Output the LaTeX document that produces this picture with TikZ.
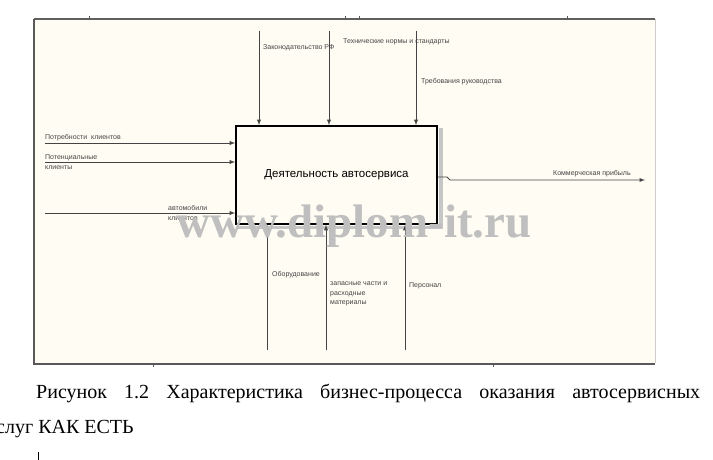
\documentclass[tikz,border=0pt]{standalone}
\usepackage{fontspec}
\setmainfont{Liberation Serif}
\newfontfamily\idef{Liberation Sans}
\usepackage{tikz}
\usetikzlibrary{arrows,shapes}
\usetikzlibrary{positioning,fit}
\definecolor{paper}{HTML}{FFFCF3}
\definecolor{ink}{HTML}{444444}
\tikzstyle{func} = [draw, line width=1.7pt, minimum width=201pt,
    minimum height=98pt, inner sep=0pt, font=\idef\fontsize{11.5}{14}\selectfont]
\tikzstyle{lbl} = [inner sep=0pt, align=left, text=ink,
    font=\idef\fontsize{7}{9.5}\selectfont]
\tikzstyle{flow} = [-latex, line width=0.9pt, ink]

\begin{document}
\begin{tikzpicture}[x=1pt,y=-1pt]
  \useasboundingbox (0,0) rectangle (713,460);
  \fill [paper] (34,19) rectangle (655,363);
  \draw [gray!75!black, line width=1.4pt] (34,19) -- (655,19);
  \draw [gray!40, line width=1pt] (655,19) -- (655,363);
  \draw [gray!70!black, line width=2pt] (34,19) -- (34,364) -- (655,364);
  \foreach \x in {89,345,359,567} \draw [gray!70!black] (\x,19) -- (\x,16);
  \foreach \x in {153,493} \draw [gray!70!black] (\x,364) -- (\x,367);

  \node [func] (act) at (336.5,175) {Деятельность автосервиса};
  \fill [gray!45] ([xshift=1pt,yshift=-3pt]act.north east) rectangle ([xshift=5pt,yshift=-4pt]act.south east);
  \fill [gray!45] ([xshift=3pt,yshift=-1pt]act.south west) rectangle ([xshift=5pt,yshift=-4pt]act.south east);

  \coordinate (k1) at (259,31);
  \coordinate (k2) at (329,31);
  \coordinate (k3) at (416,31);
  \draw [flow] (k1) -- (k1 |- act.north);
  \draw [flow] (k2) -- (k2 |- act.north);
  \draw [flow] (k3) -- (k3 |- act.north);
  \node [lbl, anchor=west] (k1t) at (263,48) {Законодательство РФ};
  \node [lbl, anchor=west] (k2t) at (343,42) {Технические нормы и стандарты};
  \node [lbl, anchor=west] (k3t) at (421,82) {Требования руководства};

  \coordinate (i1) at (45,143);
  \coordinate (i2) at (45,162);
  \coordinate (i3) at (45,213);
  \draw [flow] (i1) -- (i1 -| act.west);
  \draw [flow] (i2) -- (i2 -| act.west);
  \draw [flow] (i3) -- (i3 -| act.west);
  \node [lbl, anchor=west] (i1t) at (45,138) {Потребности\ \ клиентов};
  \node [lbl, anchor=west] (i2t) at (45,162) {Потенциальные\\клиенты};
  \node [lbl, anchor=west] (i3t) at (168,213) {автомобили\\клиентов};

  \coordinate (o0) at (447,177);
  \coordinate (o1) at (645,180);
  \draw [flow] (act.east |- o0) -- (o0) -- (450,180) -- (o1);
  \node [lbl, anchor=west] (o1t) at (553,174) {Коммерческая прибыль};

  \coordinate (m1) at (267,350);
  \coordinate (m2) at (326,350);
  \coordinate (m3) at (405,350);
  \draw [flow] (m1) -- (m1 |- act.south);
  \draw [flow] (m2) -- (m2 |- act.south);
  \draw [flow] (m3) -- (m3 |- act.south);
  \node [lbl, anchor=west] (m1t) at (272,275) {Оборудование};
  \node [lbl, anchor=north west] (m2t) at (330,282) {запасные части и\\расходные\\материалы};
  \node [lbl, anchor=west] (m3t) at (409,286) {Персонал};

  \node [text=gray!50, font=\bfseries\fontsize{47}{47}\selectfont] (wm) at (354,226) {www.diplom-it.ru};

  \node [anchor=base west, inner sep=0pt, font=\fontsize{20}{24}\selectfont] (cap1) at (36,398)
    {\makebox[664pt][s]{Рисунок 1.2 Характеристика бизнес-процесса оказания автосервисных}};
  \node [anchor=base west, inner sep=0pt, font=\fontsize{20}{24}\selectfont] (cap2) at (-4,433) {слуг КАК ЕСТЬ};
  \draw [line width=1pt] (38,452) -- (38,460);
\end{tikzpicture}
\end{document}
